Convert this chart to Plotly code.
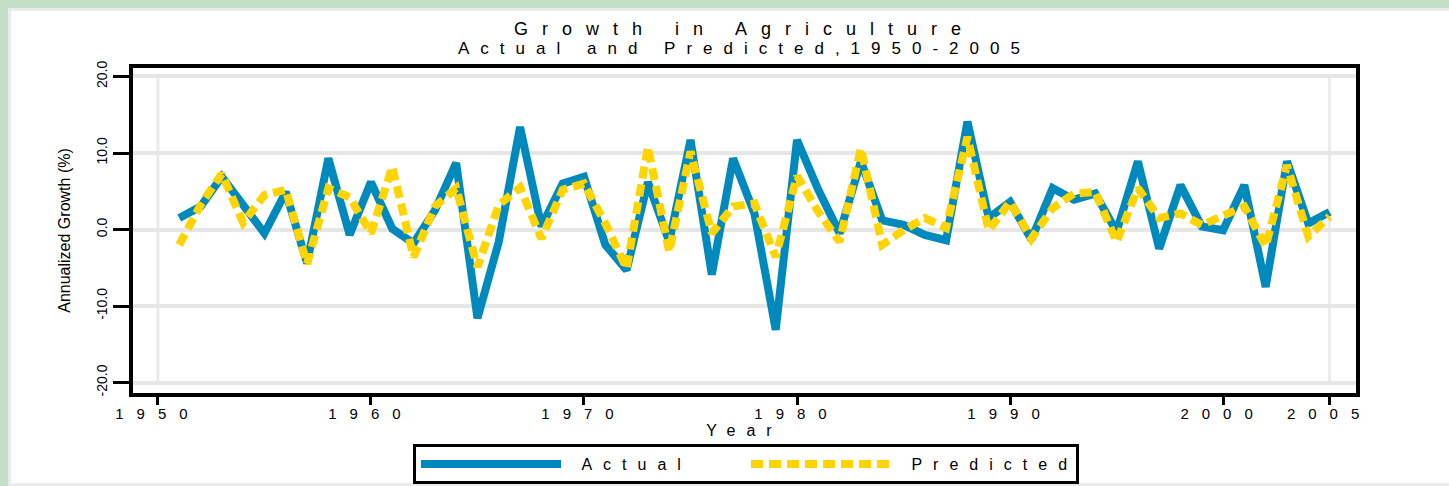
import plotly.graph_objects as go

years = list(range(1951, 2006))
actual = [1.5, 3.0, 6.9, 3.0, -0.5, 4.9, -4.4, 9.3, -0.7, 6.2,
          0.1, -1.8, 2.5, 8.7, -11.6, -1.6, 13.4, 0.4, 6.0, 6.9,
          -2.0, -5.3, 6.2, -1.6, 11.7, -5.9, 9.3, 2.1, -13.1, 11.7,
          5.2, -0.5, 8.9, 1.2, 0.6, -0.7, -1.4, 14.1, 1.5, 3.6,
          -1.3, 5.4, 3.9, 4.7, -0.3, 8.9, -2.5, 5.8, 0.4, -0.1,
          5.8, -7.5, 8.9, 0.8, 2.3]
predicted = [-2.0, 3.2, 7.3, 0.9, 4.5, 5.2, -4.5, 5.4, 4.2, -0.5,
             8.2, -3.6, 3.0, 5.4, -4.9, 3.2, 5.5, -1.2, 5.2, 6.0,
             0.8, -5.1, 10.8, -2.9, 10.2, -0.5, 3.0, 3.4, -3.6, 7.0,
             2.3, -1.6, 10.6, -2.0, -0.1, 1.5, 0.2, 12.1, -0.1, 3.6,
             -1.2, 2.8, 4.7, 4.9, -1.6, 5.4, 1.5, 2.1, 0.6, 1.7,
             3.0, -2.2, 8.4, -0.9, 1.7]
x_tickvals = [1950, 1960, 1970, 1980, 1990, 2000, 2005]
x_ticklabels = ["1950", "1960", "1970", "1980", "1990", "2000", "2005"]
y_tickvals = [-20, -10, 0, 10, 20]
y_ticklabels = ["-20.0", "-10.0", "0.0", "10.0", "20.0"]

FONT = "Liberation Sans, Arial, Helvetica, sans-serif"
BLUE = "#0089bc"
GOLD = "#ffd400"


def spaced(t, px):
    return '<span style="letter-spacing:%dpx">%s</span>' % (px, t)


fig = go.Figure()
fig.add_trace(go.Scatter(x=years, y=actual, mode="lines",
                         name=spaced("\u00a0Actual", 11),
                         line=dict(color=BLUE, width=8)))
fig.add_trace(go.Scatter(x=years, y=predicted, mode="lines",
                         name=spaced("\u00a0Predicted", 11),
                         line=dict(color=GOLD, width=8, dash="12px,6px")))

W, H = 1449, 486
L, R, T, B = 133, 93, 68, 93
pw, ph = W - L - R, H - T - B


def px2paper_x(px):
    return (px - L) / pw


def px2paper_y(py):
    return (H - B - py) / ph


fig.update_layout(
    width=W, height=H,
    margin=dict(l=L, r=R, t=T, b=B, pad=0, autoexpand=False),
    paper_bgcolor="#c3dfc7",
    plot_bgcolor="white",
    font=dict(family=FONT, color="black"),
    showlegend=True,
    legend=dict(orientation="h", xref="container", x=413 / W, xanchor="left",
                yref="container", y=(H - 444) / H, yanchor="top",
                bordercolor="black", borderwidth=3, bgcolor="white",
                font=dict(size=16, family=FONT), itemwidth=140,
                entrywidth=175, entrywidthmode="pixels"),
    xaxis=dict(range=[1948.83, 2006.24], tickmode="array", tickvals=x_tickvals,
               ticktext=[spaced(t, 13) for t in x_ticklabels],
               showgrid=False, zeroline=False,
               showline=True, mirror=True, linecolor="black", linewidth=4,
               ticks="outside", ticklen=8, tickwidth=3, tickcolor="black",
               tickfont=dict(size=15), ticklabelstandoff=-4,
               title=dict(text=spaced("Year", 11), font=dict(size=16), standoff=0)),
    yaxis=dict(range=[-21.37, 21.11], tickmode="array", tickvals=y_tickvals,
               ticktext=y_ticklabels, tickangle=-90,
               showgrid=True, gridcolor="#e6e6e6", gridwidth=3.5, zeroline=False,
               showline=True, mirror=True, linecolor="black", linewidth=4,
               ticks="outside", ticklen=16, tickwidth=3, tickcolor="black",
               tickfont=dict(size=14),
               title=dict(text="Annualized Growth (%)", font=dict(size=16), standoff=21)),
    title=dict(text=spaced("Growth in Agriculture", 14), font=dict(size=18, family=FONT),
               x=0.5, xref="paper", xanchor="center",
               y=1 - 29 / H, yref="container", yanchor="middle"),
    annotations=[dict(text=spaced("Actual and Predicted,1950-2005", 11),
                      xref="paper", yref="paper", x=0.5, y=px2paper_y(48),
                      xanchor="center", yanchor="middle", showarrow=False,
                      font=dict(size=17, family=FONT))],
    shapes=[
        dict(type="rect", xref="paper", yref="paper", layer="below",
             x0=px2paper_x(9.5), x1=px2paper_x(1480), y0=px2paper_y(484.5), y1=px2paper_y(9.5),
             fillcolor="white", line=dict(color="#ebebeb", width=3)),
        dict(type="rect", xref="x", yref="y", layer="below",
             x0=1950, x1=2005, y0=-20, y1=20,
             line=dict(color="#ebebeb", width=3)),
    ],
)

fig.write_html("out.html")
